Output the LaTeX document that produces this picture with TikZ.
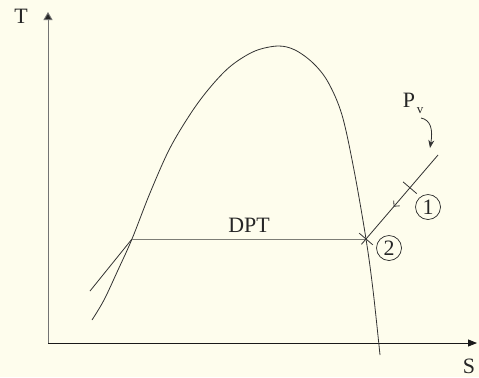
\documentclass[tikz,border=0pt]{standalone}
\usepackage{fontspec}
\setmainfont{Liberation Serif}
\usetikzlibrary{arrows.meta,decorations.markings,calc}
\definecolor{bg}{RGB}{254,253,237}
\definecolor{curvecol}{RGB}{50,50,50}
\definecolor{greyline}{RGB}{125,125,118}
\begin{document}
\begin{tikzpicture}[x=1bp,y=-1bp,
  font=\fontsize{22}{26}\selectfont,
  curve/.style={draw=curvecol,line width=0.8bp},
  axisline/.style={line width=0.9bp},
  lbl/.style={inner sep=0pt,text=black!85},
  circnum/.style={circle,draw=black!85,line width=0.7bp,inner sep=0pt,minimum size=25bp,text=black!85},
  tickmark/.style={draw=curvecol,line width=0.8bp}]
\fill[bg] (0,0) rectangle (479,377);
\useasboundingbox (0,0) rectangle (479,377);
% axes
\coordinate (O) at (48,343);
\coordinate (Ytop) at (48,12);
\coordinate (Xend) at (477,343);
\draw[axisline,draw=black!55,-{Triangle[length=8bp,width=9bp,fill=black!85]}] (O) -- (Ytop);
\draw[axisline,draw=black!90,-{Triangle[length=9bp,width=7bp]}] (O) -- (Xend);
\node[lbl] (T) at (21,16) {T};
\node[lbl] (S) at (469,366) {S};
% dome
\draw[curve] plot[smooth,tension=0.55] coordinates {(92,320) (104,300) (118,270) (132,239) (150,193) (170,148) (193,110) (213,84) (232,65) (255,51) (278,46) (295,50) (313,63) (328,82) (342,115) (354,170) (366,239) (373,290) (380,355)};
% left straight line
\coordinate (L0) at (90,291);
\coordinate (A) at (132,239);
\coordinate (B) at (366,239);
\draw[curve] (L0) -- (A);
\draw[draw=greyline,line width=1bp] (A) -- node[lbl,above=6bp] (dpt) {DPT} (B);
% diagonal line
\coordinate (Ltop) at (438,155);
\coordinate (Lend) at ($(B)!-7bp!(Ltop)$);
\draw[curve,decoration={markings,mark=at position 0.58 with {\arrow{Straight Barb[length=4bp,width=8bp]}}},postaction={decorate}] (Ltop) -- (Lend);
% ticks
\coordinate (t1) at ($(Ltop)!0.39!(B)$);
\draw[tickmark] ($(t1)!9bp!90:(Ltop)$) -- ($(t1)!9bp!-90:(Ltop)$);
\draw[tickmark] ($(B)!9bp!90:(Ltop)$) -- ($(B)!9bp!-90:(Ltop)$);
% circled numbers
\node[circnum] (c1) at (428,207) {1};
\node[circnum] (c2) at (389,248) {2};
% P_v label and wavy arrow
\node[lbl] (P) at (409,100) {P};
\node[lbl,font=\fontsize{13}{15}\selectfont] (v) at (420,111) {v};
\coordinate (w0) at (421,118);
\coordinate (w1) at (430,148);
\draw[curve,-{Stealth[length=8bp,width=6bp]}] (w0) .. controls (431,120) and (433,130) .. (w1);
\end{tikzpicture}
\end{document}
